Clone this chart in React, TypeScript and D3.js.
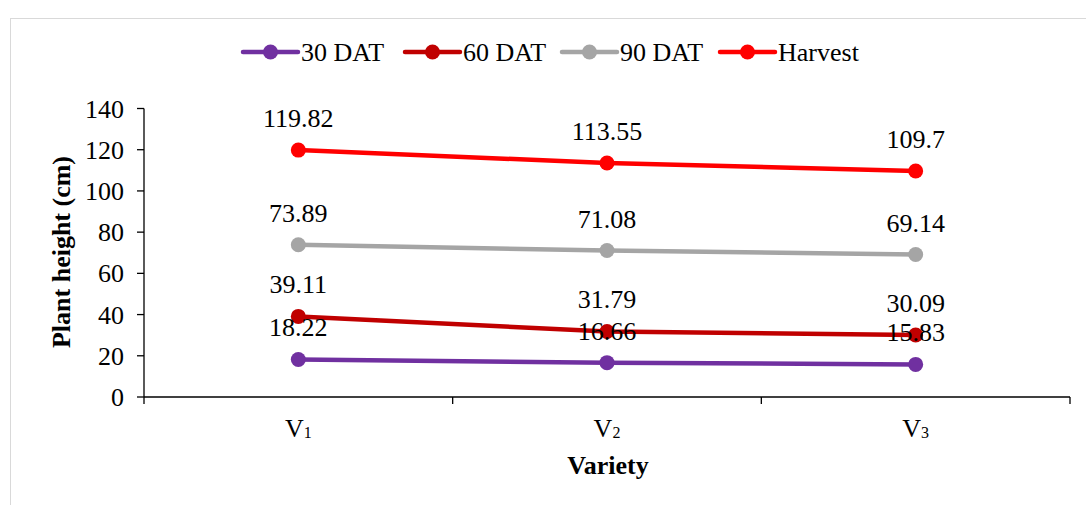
import React from "react";
import * as d3 from "d3";

const categories = ["V1", "V2", "V3"];
const subscripts = ["1", "2", "3"];
const seriesNames = ["30 DAT", "60 DAT", "90 DAT", "Harvest"];
const seriesColors = ["#7030A0", "#C00000", "#A5A5A5", "#FF0000"];
const dat30 = [18.22, 16.66, 15.83];
const dat60 = [39.11, 31.79, 30.09];
const dat90 = [73.89, 71.08, 69.14];
const harvest = [119.82, 113.55, 109.7];
const labels30 = ["18.22", "16.66", "15.83"];
const labels60 = ["39.11", "31.79", "30.09"];
const labels90 = ["73.89", "71.08", "69.14"];
const labelsHarvest = ["119.82", "113.55", "109.7"];
const yTicks = [0, 20, 40, 60, 80, 100, 120, 140];

const FONT = "Liberation Serif";
const FS = 26;

export default function App() {
  const W = 1086, H = 505;
  const left = 144, right = 1070, top = 108.5, bottom = 397;
  const x = d3.scaleBand<string>().domain(categories).range([left, right]);
  const y = d3.scaleLinear().domain([0, 140]).range([bottom, top]);
  const cx = (i: number) => (x(categories[i]) as number) + x.bandwidth() / 2;
  const line = d3.line<number>().x((_, i) => cx(i)).y((d) => y(d));
  const allSeries = [dat30, dat60, dat90, harvest];
  const allLabels = [labels30, labels60, labels90, labelsHarvest];
  const legendX = [243, 405, 562, 720];
  const bounds = [left, ...categories.map((c) => (x(c) as number) + x.bandwidth())];

  return (
    <svg width={W} height={H} style={{ position: "absolute", left: 0, top: 0, display: "block" }}
      fontFamily={FONT}>
      <rect x={0} y={0} width={W} height={H} fill="#fff" />
      <rect x={10.5} y={18.5} width={1090} height={500} fill="none" stroke="#d9d9d9" strokeWidth={1} />

      {/* y axis */}
      <line x1={left} x2={left} y1={top} y2={bottom} stroke="#000" strokeWidth={1.3} />
      {yTicks.map((t) => (
        <g key={t}>
          <line x1={left - 7} x2={left} y1={y(t)} y2={y(t)} stroke="#000" strokeWidth={1.3} />
          <text x={124} y={y(t) + 9} textAnchor="end" fontSize={FS} fontFamily={FONT} fill="#000">
            {d3.format("d")(t)}
          </text>
        </g>
      ))}

      {/* x axis */}
      <line x1={left} x2={right} y1={bottom} y2={bottom} stroke="#000" strokeWidth={1.5} />
      {bounds.map((bx, i) => (
        <line key={i} x1={bx} x2={bx} y1={bottom} y2={bottom + 7} stroke="#000" strokeWidth={1.3} />
      ))}
      {categories.map((c, i) => (
        <text key={c} x={cx(i)} y={437} textAnchor="middle" fontSize={FS} fontFamily={FONT} fill="#000">
          <tspan>V</tspan>
          <tspan fontSize={16} dy={1}>{subscripts[i]}</tspan>
        </text>
      ))}

      <text x={608} y={474} textAnchor="middle" fontSize={FS} fontWeight="bold" fontFamily={FONT} fill="#000">Variety</text>
      <text transform="translate(70,252) rotate(-90)" textAnchor="middle" fontSize={FS} fontWeight="bold"
        fontFamily={FONT} fill="#000">Plant height (cm)</text>

      {allSeries.map((vals, si) => (
        <g key={si}>
          <path d={line(vals) || ""} fill="none" stroke={seriesColors[si]} strokeWidth={4.5} strokeLinecap="round" />
          {vals.map((v, i) => (
            <circle key={i} cx={cx(i)} cy={y(v)} r={7.5} fill={seriesColors[si]} />
          ))}
        </g>
      ))}
      {allSeries.map((vals, si) =>
        vals.map((v, i) => (
          <text key={`${si}-${i}`} x={cx(i)} y={y(v) - 23} textAnchor="middle" fontSize={FS}
            fontFamily={FONT} fill="#000">{allLabels[si][i]}</text>
        ))
      )}

      {seriesNames.map((name, si) => (
        <g key={name} transform={`translate(${legendX[si]},52)`}>
          <line x1={0} x2={55} y1={0} y2={0} stroke={seriesColors[si]} strokeWidth={4.5} strokeLinecap="round" />
          <circle cx={27.5} cy={0} r={7.5} fill={seriesColors[si]} />
          <text x={58} y={8.5} fontSize={FS} fontFamily={FONT} fill="#000">{name}</text>
        </g>
      ))}
    </svg>
  );
}
